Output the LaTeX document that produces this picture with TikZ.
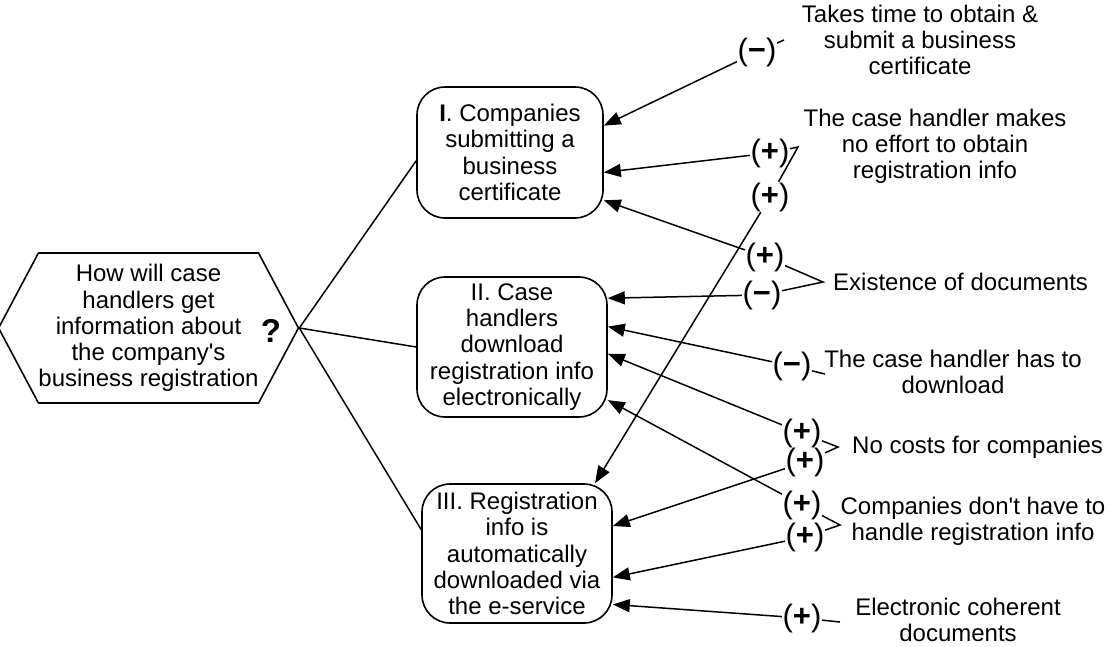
\documentclass[tikz,border=0pt]{standalone}
\usepackage{fontspec}
\setmainfont{Liberation Sans}
\usetikzlibrary{arrows.meta,shapes.symbols}

\begin{document}
\begin{tikzpicture}[x=1pt,y=-1pt,
        txt/.style={font=\fontsize{24}{26.2}\selectfont, align=center, inner sep=0pt},
        opt/.style={txt, draw, line width=1.6pt, rounded corners=28pt,
            minimum width=186pt, minimum height=131pt},
        effect/.style={font=\fontsize{31}{32}\selectfont, inner sep=0.5pt},
        arr/.style={line width=1.5pt, -{Triangle[length=17pt,width=13pt]}},
        lnk/.style={line width=1.5pt}]
        \useasboundingbox (0,0) rectangle (1113,646);
        % question
        \node[txt, draw, line width=1.6pt, shape=signal, signal to=west and east,
            signal pointer angle=124, minimum width=293pt, minimum height=150pt]
            (q) at (148.5,328) {How will case\\handlers get\\information about\\the company\textquotesingle s\\business registration};
        \node[font=\fontsize{33}{34}\selectfont\bfseries, inner sep=0pt]
            (qm) at (271,331) {?};
        % options
        \node[opt]
            (b1) at (510,152.5) {\textbf{I}. Companies\\submitting a\\business\\certificate};
        \node[opt, minimum width=190pt, minimum height=140pt]
            (b2) at (512,347) {II. Case\\handlers\\download\\registration info\\electronically};
        \node[opt, minimum width=190pt, minimum height=139pt]
            (b3) at (517,553.5) {III. Registration\\info is\\automatically\\downloaded via\\the e-service};
        \draw[lnk] (q.east) -- (b1.185);
        \draw[lnk] (q.east) -- (b2.west);
        \draw[lnk] (q.east) -- (b3.166);
        % criteria
        \node[txt] (t1) at (920,40) {Takes time to obtain \&\\submit a business\\certificate};
        \node[txt] (t2) at (935,146) {The case handler makes\\no effort to obtain\\registration info};
        \node[txt, anchor=west] (t3) at (833,282) {Existence of documents};
        \node[txt] (t4) at (953,372) {The case handler has to\\download};
        \node[txt, anchor=west] (t5) at (852,447) {No costs for companies};
        \node[txt] (t6) at (973,521) {Companies don\textquotesingle t have to\\handle registration info};
        \node[txt] (t7) at (958,620) {Electronic coherent\\documents};
        % assessments
        \node[effect] (s1) at (757,52) {(\textbf{−})};
        \node[effect] (s2) at (770,153) {(\textbf{+})};
        \node[effect] (s3) at (770,197) {(\textbf{+})};
        \node[effect] (s4) at (765,257) {(\textbf{+})};
        \node[effect] (s5) at (762,295) {(\textbf{−})};
        \node[effect] (s6) at (792,366) {(\textbf{−})};
        \node[effect] (s7) at (802,433) {(\textbf{+})};
        \node[effect] (s8) at (805,462) {(\textbf{+})};
        \node[effect] (s9) at (802,505) {(\textbf{+})};
        \node[effect] (s10) at (805,537) {(\textbf{+})};
        \node[effect] (s11) at (802,618) {(\textbf{+})};
        \draw[arr] (s1) -- (b1.16);
        \draw[arr] (s2) -- (b1.-12);
        \draw[arr] (s3) -- (b3.42);
        \draw[arr] (s4) -- (b1.-27);
        \draw[arr] (s5) -- (b2.27);
        \draw[arr] (s6) -- (b2.12);
        \draw[arr] (s7) -- (b2.-4);
        \draw[arr] (s8) -- (b3.16);
        \draw[arr] (s9) -- (b2.-29);
        \draw[arr] (s10) -- (b3.-14);
        \draw[arr] (s11) -- (b3.-28);
        % links to criteria
        \coordinate (v1) at (784,40);
        \coordinate (v2) at (798,147);
        \coordinate (v3) at (823,282);
        \coordinate (v4) at (825,374);
        \coordinate (v5) at (838,447);
        \coordinate (v6) at (840,525);
        \coordinate (v7) at (840,622);
        \draw[lnk] (s1) -- (v1);
        \draw[lnk] (s2) -- (v2) -- (s3);
        \draw[lnk] (s4) -- (v3) -- (s5);
        \draw[lnk] (s6) -- (v4);
        \draw[lnk] (s7) -- (v5) -- (s8);
        \draw[lnk] (s9) -- (v6) -- (s10);
        \draw[lnk] (s11) -- (v7);
    \end{tikzpicture}
\end{document}
